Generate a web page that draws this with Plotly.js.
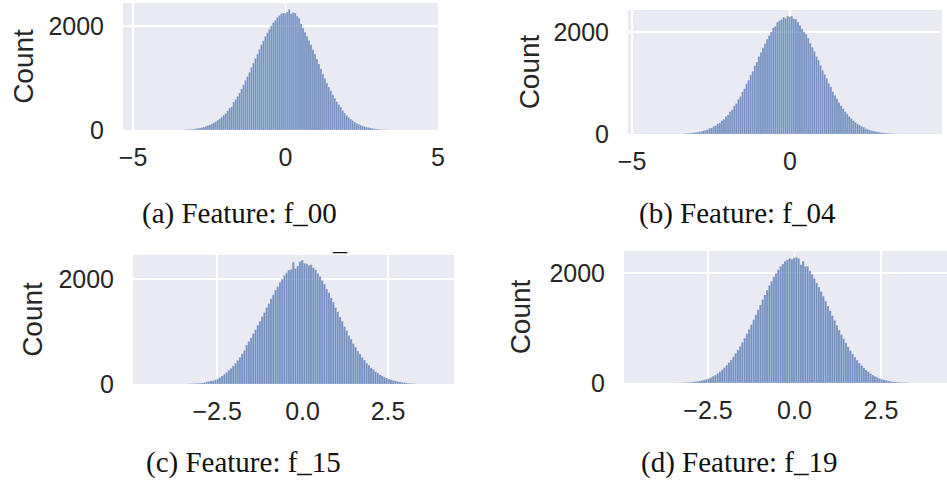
<!DOCTYPE html>
<html>
<head>
<meta charset="utf-8">
<script src="https://cdn.plot.ly/plotly-3.0.1.min.js"></script>
<style>html,body{margin:0;padding:0;background:#fff;}#chart{width:947px;height:484px;}</style>
</head>
<body>
<div id="chart"></div>
<script>
// ---- data: histogram bin counts ----
const binStart = -3.325;   // centre of first bin
const binWidth = 0.065;

const captions = ["(a) Feature: f_00", "(b) Feature: f_04", "(c) Feature: f_15", "(d) Feature: f_19"];
const yTickVals = [0, 2000];
const xTickVals_ab = [-5, 0, 5];
const xTickVals_cd = [-2.5, 0, 2.5];

const countsF00 = [4,6,8,11,15,
  20,26,32,40,48,58,70,86,100,118,
  140,160,190,215,248,285,318,372,425,445,
  540,585,650,712,790,870,955,1030,1110,1205,
  1290,1378,1460,1550,1640,1715,1800,1870,1940,2005,
  2065,2110,2165,2200,2235,2250,2245,2270,2320,2235,
  2260,2250,2190,2150,2040,1960,1880,1800,1720,1640,
  1545,1460,1365,1270,1175,1080,995,905,825,755,
  680,610,545,490,440,375,325,282,245,212,
  180,155,132,112,95,80,67,56,46,38,
  31,25,20,
  15,11,8,6,4];

const countsF04 = [8,11,14,18,24,
  30,35,44,50,66,72,88,110,120,150,
  165,200,220,262,290,345,375,440,478,550,
  596,680,735,825,890,985,1055,1160,1230,1340,
  1410,1520,1600,1690,1770,1860,1930,2000,2080,2110,
  2190,2225,2245,2290,2270,2310,2300,2310,2260,2250,
  2195,2130,2060,2000,1960,1880,1780,1700,1620,1520,
  1450,1345,1250,1170,1090,995,925,830,760,690,
  615,555,500,440,395,345,300,262,232,198,
  175,150,132,108,96,78,66,55,46,38,
  32,26,21,
  17,13,10,7,5];

const countsF15 = [5,7,9,11,13,
  16,20,28,40,50,58,66,78,98,122,
  152,185,220,262,300,345,395,450,510,575,
  640,740,812,880,960,1032,1120,1195,1285,1362,
  1455,1532,1625,1700,1788,1855,1938,1998,2070,2120,
  2170,2180,2320,2200,2250,2330,2360,2300,2290,2260,
  2270,2215,2175,2105,2050,1970,1905,1810,1740,1640,
  1560,1455,1375,1275,1195,1095,1020,925,855,770,
  705,628,570,505,455,398,358,310,276,236,
  208,176,156,130,115,94,82,68,59,47,
  41,32,27,
  20,15,11,8,6];

const countsF19 = [4,5,7,9,12,
  15,19,24,30,36,44,55,68,82,100,
  122,145,172,205,240,280,325,372,420,478,
  540,600,668,742,815,895,975,1062,1150,1240,
  1330,1420,1515,1600,1690,1775,1850,1930,1995,2060,
  2120,2165,2215,2240,2265,2250,2275,2285,2265,2150,
  2215,2120,2125,2040,1975,1900,1820,1745,1660,1580,
  1490,1400,1315,1225,1140,1050,965,880,805,730,
  660,590,530,470,415,362,318,276,238,205,
  172,145,122,102,85,70,58,47,38,30,
  24,19,15,
  12,9,7,5,4];

// ---- layout helpers ----
const W = 947, H = 484;
const fx = p => p / W;
const fy = p => 1 - p / H;

const panels = [
  {ax: '',  counts: countsF00, xd: [123, 438], yd: [3, 130],   xr: [-5.33, 5.0],  yr: [0, 2442], xt: xTickVals_ab, fmt: 'd',   so: 6},
  {ax: '2', counts: countsF04, xd: [628, 942], yd: [10, 134],  xr: [-5.13, 4.81], yr: [0, 2431], xt: xTickVals_ab, fmt: 'd',   so: 5},
  {ax: '3', counts: countsF15, xd: [133, 454], yd: [255, 384], xr: [-4.96, 4.43], yr: [0, 2457], xt: xTickVals_cd, fmt: '.1f', so: 7},
  {ax: '4', counts: countsF19, xd: [624, 947], yd: [251, 383], xr: [-4.93, 4.41], yr: [0, 2400], xt: xTickVals_cd, fmt: '.1f', so: 10}
];

const tickFont = {family: 'Liberation Sans, Arial, sans-serif', size: 25, color: '#262626'};
const titleFont = {family: 'Liberation Sans, Arial, sans-serif', size: 28, color: '#262626'};

const traces = [];
const layout = {
  width: W, height: H,
  margin: {l: 0, r: 0, t: 0, b: 0},
  paper_bgcolor: '#ffffff',
  plot_bgcolor: '#EAEAF2',
  showlegend: false,
  bargap: 0,
  annotations: []
};

panels.forEach(p => {
  traces.push({
    type: 'bar',
    x0: binStart, dx: binWidth,
    y: p.counts,
    width: binWidth,
    xaxis: 'x' + p.ax, yaxis: 'y' + p.ax,
    marker: {color: 'rgba(76,114,176,0.75)', line: {color: 'rgba(255,255,255,0.45)', width: 0.4}},
    hoverinfo: 'skip'
  });
  layout['xaxis' + p.ax] = {
    domain: [fx(p.xd[0]), fx(p.xd[1])],
    anchor: 'y' + p.ax,
    range: p.xr,
    tickvals: p.xt,
    tickformat: p.fmt,
    showgrid: true, gridcolor: '#ffffff', gridwidth: 1.5,
    zeroline: false, showline: false, ticks: '',
    ticklabelstandoff: 10,
    tickfont: tickFont
  };
  layout['yaxis' + p.ax] = {
    domain: [fy(p.yd[1]), fy(p.yd[0])],
    anchor: 'x' + p.ax,
    range: p.yr,
    tickvals: yTickVals,
    showgrid: true, gridcolor: '#ffffff', gridwidth: 1.5,
    zeroline: false, showline: false, ticks: '',
    ticklabelstandoff: 18,
    tickfont: tickFont,
    title: {text: 'Count', font: titleFont, standoff: p.so}
  };
});

const capPos = [[240, 213], [737, 213], [243, 462], [739, 462]];
captions.forEach((c, i) => {
  layout.annotations.push({
    text: c, xref: 'paper', yref: 'paper',
    x: fx(capPos[i][0]), y: fy(capPos[i][1]),
    xanchor: 'center', yanchor: 'middle', showarrow: false,
    font: {family: 'Liberation Serif, Times New Roman, serif', size: 29, color: '#111111'}
  });
});
// stray underscore glyph visible above panel (c) in the reference
layout.annotations.push({
  text: '_', xref: 'paper', yref: 'paper',
  x: fx(340), y: fy(240), xanchor: 'center', yanchor: 'middle', showarrow: false,
  font: {family: 'Liberation Serif, Times New Roman, serif', size: 28, color: '#111111'}
});

Plotly.newPlot('chart', traces, layout, {staticPlot: true, displayModeBar: false});
</script>
</body>
</html>
